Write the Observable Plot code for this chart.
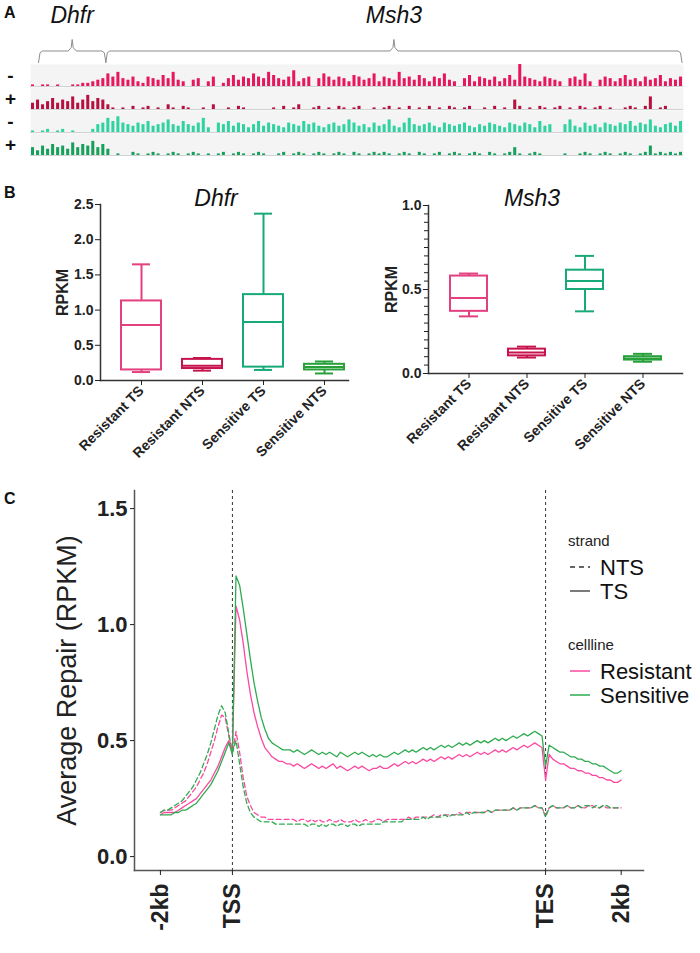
<!DOCTYPE html>
<html><head><meta charset="utf-8">
<script src="https://cdn.jsdelivr.net/npm/d3@7"></script>
<script src="https://cdn.jsdelivr.net/npm/@observablehq/plot@0.6"></script>
<style>
body{margin:0;background:#fff;}
#root{position:relative;width:700px;height:953px;overflow:hidden;font-family:"Liberation Sans",Arial,sans-serif;color:#111;background:#fff;}
.abs{position:absolute;line-height:1;white-space:nowrap;}
.panel{font-weight:bold;font-size:16px;}
.gtitle{font-style:italic;font-size:23px;text-align:center;width:200px;}
</style></head><body><div id="root"></div>
<script>
// ---------- Panel A data ----------
const trackIds = ["R-", "R+", "S-", "S+"];
const trackSigns = ["-", "+", "-", "+"];
const trackColors = ["#e8175d", "#b5103f", "#2fd3a0", "#16a05c"];
const trackRminus = [1,0,1,1,0, 1,0,0,1,1, 2,2,3,4,5, 8,6,9,5,4, 6,3,2,6,5, 4,7,5,9,4, 3,0,4,5,0, 3,6,0,2,5, 7,4,6,5,8, 6,5,9,7,5, 4,6,10,3,5, 6,0,5,8,6, 4,6,5,3,7, 6,4,5,8,3, 6,5,4,9,5, 6,4,7,5,3, 6,5,8,4,3, 0,5,7,3,6, 5,4,6,3,5, 7,4,14,6,5, 4,3,6,5,4, 3,0,5,6,4, 8,3,0,4,6, 5,3,5,7,4, 5,3,6,4,5, 7,3,5,4,6];
const trackRplus = [4,6,3,5,7, 4,6,5,8,4, 6,9,5,7,6, 3,1,0,1,0, 2,0,1,2,0, 1,0,3,1,0, 2,1,0,0,1, 0,3,0,0,1, 0,2,1,0,0, 0,0,0,1,0, 2,0,1,3,0, 0,1,2,0,1, 0,2,1,0,1, 2,0,0,1,0, 1,2,0,1,0, 2,0,1,0,2, 0,1,0,2,1, 0,1,2,0,0, 1,0,2,0,1, 0,6,2,0,1, 0,2,1,0,1, 2,0,1,0,2, 1,0,1,2,0, 1,0,0,1,2, 1,0,2,8,0, 1,2,0,0,0];
const trackSminus = [1,0,1,2,0, 1,2,0,1,0, 0,0,2,5,6, 9,7,10,6,5, 4,6,5,7,4, 5,6,8,5,4, 7,5,4,6,9, 3,0,6,5,7, 4,6,5,3,5, 7,4,6,5,4, 3,6,5,4,7, 5,6,4,3,5, 6,4,5,8,6, 4,5,3,6,4, 5,8,4,3,6, 9,5,4,5,6, 4,3,6,5,4, 5,6,4,3,5, 4,6,5,4,3, 6,5,4,6,5, 3,7,4,5,0, 0,5,8,4,3, 6,4,5,3,6, 5,4,6,5,7, 4,6,5,8,4, 3,5,6,4,7];
const trackSplus = [5,3,6,4,7, 5,6,4,8,5, 7,6,9,5,7, 4,0,1,0,0, 2,1,0,1,2, 1,0,1,2,1, 0,1,2,1,0, 1,0,1,2,0, 1,2,1,0,1, 2,1,0,0,1, 2,0,1,2,1, 0,1,2,1,0, 1,2,1,0,2, 1,0,1,2,1, 2,1,0,1,2, 1,0,2,1,0, 1,2,0,1,2, 1,0,1,2,1, 0,2,1,0,1, 2,5,1,0,1, 2,1,0,0,0, 0,1,0,0,1, 2,1,0,1,2, 1,0,1,2,1, 0,1,2,6,1, 2,1,2,1,2];
const geneNames = ["Dhfr", "Msh3"];
const geneStart = [1.6, 15];
const geneEnd = [15, 129.7];

// ---------- Panel B data ----------
const boxCats = ["Resistant TS", "Resistant NTS", "Sensitive TS", "Sensitive NTS"];
const boxColors = ["#e2407f", "#c8144e", "#17a978", "#27a03a"];
const dhfrMin = [0.12, 0.14, 0.15, 0.10];
const dhfrQ1  = [0.15, 0.17, 0.19, 0.15];
const dhfrMed = [0.79, 0.21, 0.83, 0.19];
const dhfrQ3  = [1.13, 0.30, 1.22, 0.23];
const dhfrMax = [1.65, 0.32, 2.37, 0.27];
const msh3Min = [0.34, 0.095, 0.37, 0.07];
const msh3Q1  = [0.37, 0.105, 0.50, 0.08];
const msh3Med = [0.45, 0.125, 0.55, 0.09];
const msh3Q3  = [0.58, 0.145, 0.615, 0.10];
const msh3Max = [0.595, 0.16, 0.70, 0.117];
const dhfrTicks = [0, 0.5, 1.0, 1.5, 2.0, 2.5];
const msh3Ticks = [0, 0.5, 1.0];

// ---------- Panel C data ----------
const cells = ["Resistant", "Sensitive"];
const cellColors = ["#fb48a0", "#2eab4f"];
const strands = ["NTS", "TS"];
const xTickPos = [0, 20, 107, 128];
const xTickLabels = ["-2kb", "TSS", "TES", "2kb"];
const resistantTS = [0.18,0.19,0.19,0.19,0.19,0.20,0.21,0.22,0.23,0.24,0.25,0.27,0.29,0.31,0.33,0.36,0.39,0.43,0.47,0.50,0.46,
1.08,1.02,0.92,0.80,0.70,0.62,0.56,0.51,0.47,0.45,0.43,0.42,0.41,0.41,0.40,
0.40,0.39,0.40,0.39,0.38,0.39,0.40,0.39,0.38,0.39,0.38,0.39,0.40,0.38,0.39,0.38,0.37,0.38,0.39,0.38,0.39,0.38,0.37,0.38,0.38,
0.39,0.38,0.38,0.39,0.40,0.39,0.40,0.41,0.40,0.41,0.40,0.41,0.42,0.41,0.42,0.41,0.42,0.43,0.42,0.43,0.42,0.43,0.44,0.43,0.44,
0.43,0.44,0.45,0.44,0.45,0.44,0.45,0.46,0.45,0.46,0.45,0.46,0.47,0.46,0.47,0.48,0.47,0.48,0.49,0.48,0.47,
0.33,0.44,0.42,0.41,0.40,0.40,0.39,0.38,0.38,0.37,0.37,0.36,0.36,0.35,0.35,0.34,0.34,0.33,0.33,0.32,0.32,0.33];
const sensitiveTS = [0.18,0.18,0.18,0.18,0.19,0.19,0.20,0.20,0.21,0.22,0.23,0.25,0.27,0.29,0.31,0.34,0.37,0.41,0.45,0.49,0.44,
1.21,1.17,1.07,0.96,0.85,0.75,0.67,0.60,0.55,0.51,0.49,0.48,0.47,0.46,0.46,
0.46,0.45,0.46,0.45,0.44,0.45,0.46,0.45,0.44,0.45,0.44,0.45,0.44,0.43,0.45,0.44,0.43,0.44,0.45,0.44,0.45,0.44,0.43,0.44,0.43,
0.44,0.43,0.43,0.44,0.45,0.44,0.45,0.46,0.45,0.46,0.45,0.46,0.47,0.46,0.47,0.46,0.47,0.48,0.47,0.48,0.47,0.48,0.49,0.48,0.49,
0.48,0.49,0.50,0.49,0.50,0.49,0.50,0.51,0.50,0.51,0.50,0.51,0.52,0.51,0.52,0.53,0.52,0.53,0.54,0.53,0.52,
0.39,0.48,0.47,0.46,0.45,0.45,0.44,0.43,0.43,0.42,0.42,0.41,0.41,0.40,0.40,0.39,0.39,0.38,0.37,0.36,0.36,0.37];
const resistantNTS = [0.19,0.20,0.20,0.20,0.21,0.22,0.23,0.24,0.26,0.28,0.30,0.33,0.36,0.40,0.45,0.50,0.56,0.61,0.60,0.52,0.44,
0.54,0.45,0.34,0.26,0.22,0.19,0.18,0.17,0.17,0.16,0.16,0.16,0.16,0.16,0.16,
0.16,0.16,0.15,0.16,0.16,0.15,0.16,0.15,0.16,0.15,0.15,0.16,0.15,0.15,0.16,0.15,0.15,0.15,0.16,0.15,0.15,0.16,0.15,0.15,0.16,
0.16,0.15,0.16,0.16,0.16,0.16,0.16,0.16,0.17,0.16,0.17,0.17,0.17,0.17,0.17,0.18,0.17,0.18,0.18,0.18,0.18,0.18,0.19,0.18,0.19,
0.19,0.19,0.19,0.19,0.19,0.20,0.19,0.20,0.20,0.20,0.20,0.20,0.21,0.20,0.21,0.21,0.21,0.21,0.22,0.21,0.21,
0.18,0.21,0.22,0.21,0.21,0.21,0.22,0.21,0.21,0.22,0.21,0.21,0.22,0.22,0.21,0.21,0.22,0.21,0.21,0.21,0.21,0.21];
const sensitiveNTS = [0.19,0.20,0.20,0.21,0.22,0.23,0.24,0.26,0.28,0.30,0.33,0.36,0.40,0.44,0.49,0.55,0.61,0.65,0.62,0.53,0.45,
0.50,0.40,0.30,0.23,0.19,0.17,0.16,0.15,0.15,0.15,0.15,0.14,0.14,0.14,0.14,
0.14,0.14,0.14,0.14,0.14,0.13,0.14,0.14,0.13,0.14,0.13,0.14,0.14,0.13,0.14,0.14,0.13,0.14,0.14,0.13,0.14,0.14,0.14,0.14,0.14,
0.14,0.15,0.15,0.15,0.15,0.15,0.15,0.16,0.16,0.16,0.16,0.16,0.17,0.16,0.17,0.17,0.17,0.17,0.18,0.17,0.18,0.18,0.18,0.18,0.19,
0.18,0.19,0.19,0.19,0.19,0.20,0.19,0.20,0.20,0.20,0.20,0.20,0.21,0.20,0.21,0.21,0.21,0.21,0.22,0.21,0.21,
0.17,0.21,0.22,0.21,0.21,0.21,0.22,0.21,0.21,0.22,0.21,0.22,0.22,0.21,0.22,0.21,0.22,0.22,0.21,0.21,0.21,0.21];

// ---------- helpers ----------
const root = document.getElementById("root");
const FONT = "'Liberation Sans', Arial, sans-serif";
function place(node, left, top) {
  node.style.position = "absolute";
  node.style.left = left + "px";
  node.style.top = top + "px";
  root.appendChild(node);
  return node;
}
function label(text, cls, left, top) {
  const d = document.createElement("div");
  d.className = "abs " + cls;
  d.textContent = text;
  return place(d, left, top);
}

// ---------- Panel A ----------
label("A", "panel", 4, 5);
const braceRows = [];
geneNames.forEach((g, i) => {
  const s = geneStart[i], e = geneEnd[i], m = (s + e) / 2;
  [[s, 0], [s + 0.3, 0.85], [s + 0.8, 1], [m - 0.8, 1], [m - 0.2, 1.3], [m, 2], [m + 0.2, 1.3], [m + 0.8, 1], [e - 0.8, 1], [e - 0.3, 0.85], [e, 0]]
    .forEach(([x, y]) => braceRows.push({ gene: g, x, y }));
});
const braces = Plot.plot({
  width: 700, height: 63, marginLeft: 30, marginRight: 17, marginTop: 0, marginBottom: 0,
  style: { fontFamily: FONT, background: "transparent", overflow: "visible" },
  x: { domain: [0, 130], axis: null },
  y: { domain: [0, 5], range: [62, 4.5], axis: null },
  marks: [
    Plot.line(braceRows, { x: "x", y: "y", z: "gene", stroke: "#8c8c8c", strokeWidth: 1, curve: "linear" }),
    Plot.text(geneNames, { x: (d, i) => (geneStart[i] + geneEnd[i]) / 2, y: () => 4.1, text: d => d, fontSize: 23, fontStyle: "italic", fill: "#111", lineAnchor: "middle" })
  ]
});
place(braces, 0, 0);

const trackValues = [trackRminus, trackRplus, trackSminus, trackSplus];
const trackRows = trackIds.flatMap((id, k) => trackValues[k].map((v, i) => ({ track: id, bin: i, v }))).filter(d => d.v > 0);
const tracks = Plot.plot({
  width: 700, height: 100, marginLeft: 30, marginRight: 17, marginTop: 3, marginBottom: 3,
  style: { fontFamily: FONT, background: "transparent", overflow: "visible" },
  x: { domain: [0, 130], axis: null },
  y: { domain: [0, 14], axis: null },
  fy: { domain: trackIds, axis: null, padding: 0.04 },
  color: { domain: trackIds, range: trackColors },
  marks: [
    Plot.frame({ fill: "#f4f4f4", stroke: null }),
    Plot.rect(trackRows, { x1: "bin", x2: d => d.bin + 1, y1: 0, y2: "v", fy: "track", fill: "track", insetLeft: 1, insetRight: 1 }),
    Plot.ruleY([0], { stroke: "#d2d2d2" }),
    Plot.text(trackIds, { fy: d => d, text: (d, i) => trackSigns[i], frameAnchor: "left", dx: -20, textAnchor: "middle", lineAnchor: "middle", fontSize: 19, fontWeight: "bold", fill: "#111" })
  ]
});
place(tracks, 0, 60);

// ---------- Panel B ----------
label("B", "panel", 4, 185);
label("Dhfr", "gtitle", 216 - 100, 187);
label("Msh3", "gtitle", 532 - 100, 187);

function boxPanel(o) {
  const stats = boxCats.map((c, i) => ({ cat: c, min: o.min[i], q1: o.q1[i], med: o.med[i], q3: o.q3[i], max: o.max[i] }));
  const sw = 2;
  const marks = [
    Plot.ruleX(stats, { x: "cat", y1: "min", y2: "q1", stroke: "cat", strokeWidth: sw }),
    Plot.ruleX(stats, { x: "cat", y1: "q3", y2: "max", stroke: "cat", strokeWidth: sw }),
    Plot.tickY(stats, { x: "cat", y: "min", stroke: "cat", strokeWidth: sw, insetLeft: o.capInset, insetRight: o.capInset }),
    Plot.tickY(stats, { x: "cat", y: "max", stroke: "cat", strokeWidth: sw, insetLeft: o.capInset, insetRight: o.capInset }),
    Plot.barY(stats, { x: "cat", y1: "q1", y2: "q3", fill: "white", stroke: "cat", strokeWidth: sw }),
    Plot.tickY(stats, { x: "cat", y: "med", stroke: "cat", strokeWidth: sw }),
    Plot.frame({ anchor: "left", stroke: "#333", strokeWidth: 1.5 }),
    Plot.frame({ anchor: "bottom", stroke: "#333", strokeWidth: 1.5 }),
    Plot.axisY({ ticks: o.ticks, tickFormat: d3.format(".1f"), tickSize: 5, tickPadding: 2, fontSize: 14, label: null }),
    Plot.axisX({ tickRotate: -45, tickSize: 5, tickPadding: 3, fontSize: 14, label: null }),
    Plot.text(["RPKM"], { frameAnchor: "left", text: d => d, rotate: -90, dx: o.labelDx, textAnchor: "middle", lineAnchor: "middle", fontSize: 16 })
  ];
  if (o.minor) marks.push(Plot.axisY({ ticks: o.minor, tickSize: 4, tickFormat: () => "", label: null }));
  return Plot.plot({
    width: o.width, height: o.height, marginLeft: o.mL, marginRight: o.mR, marginTop: o.mT, marginBottom: o.mB,
    style: { fontFamily: FONT, fontWeight: "bold", background: "transparent", overflow: "visible", color: "#222" },
    x: { type: "band", domain: boxCats, range: o.xrange, paddingInner: o.pin, paddingOuter: o.pout },
    y: { domain: [0, o.ymax] },
    color: { domain: boxCats, range: boxColors },
    marks
  });
}
const dhfrPlot = boxPanel({
  width: 352, height: 290, mL: 100, mR: 4, mT: 24, mB: 90,
  xrange: [110.5, 354.5], pin: 0.344, pout: 0.172, ymax: 2.5, ticks: dhfrTicks, capInset: 11, labelDx: -38,
  min: dhfrMin, q1: dhfrQ1, med: dhfrMed, q3: dhfrQ3, max: dhfrMax
});
place(dhfrPlot, 0, 180);
const msh3Plot = boxPanel({
  width: 345, height: 290, mL: 73, mR: 18, mT: 25, mB: 97,
  xrange: [82.6, 317.4], pin: 0.37, pout: 0.185, ymax: 1.0, ticks: msh3Ticks, capInset: 9, labelDx: -37,
  minor: d3.range(0, 1.0001, 0.05),
  min: msh3Min, q1: msh3Q1, med: msh3Med, q3: msh3Q3, max: msh3Max
});
place(msh3Plot, 355, 180);

// ---------- Panel C ----------
label("C", "panel", 4, 491);
const series = [
  { cell: "Resistant", strand: "TS", vals: resistantTS },
  { cell: "Sensitive", strand: "TS", vals: sensitiveTS },
  { cell: "Resistant", strand: "NTS", vals: resistantNTS },
  { cell: "Sensitive", strand: "NTS", vals: sensitiveNTS }
];
const lineRows = series.flatMap(s => s.vals.map((v, i) => ({ x: i, v, cell: s.cell, strand: s.strand })));
const profile = Plot.plot({
  width: 700, height: 473, marginLeft: 134, marginRight: 57, marginTop: 10, marginBottom: 83,
  style: { fontFamily: FONT, fontWeight: "bold", background: "transparent", overflow: "visible", color: "#222" },
  x: { domain: [-7.2, 134.2] },
  y: { domain: [-0.06, 1.578] },
  color: { domain: cells, range: cellColors },
  marks: [
    Plot.ruleX([xTickPos[1], xTickPos[2]], { stroke: "#333", strokeWidth: 1, strokeDasharray: "3,3" }),
    Plot.line(lineRows.filter(d => d.strand === "NTS"), { x: "x", y: "v", z: "cell", stroke: "cell", strokeWidth: 1.3, strokeDasharray: "5,3" }),
    Plot.line(lineRows.filter(d => d.strand === "TS"), { x: "x", y: "v", z: "cell", stroke: "cell", strokeWidth: 1.3 }),
    Plot.frame({ anchor: "left", stroke: "#555", strokeWidth: 1.5 }),
    Plot.frame({ anchor: "bottom", stroke: "#555", strokeWidth: 1.5 }),
    Plot.axisY({ ticks: [0, 0.5, 1.0, 1.5], tickFormat: d3.format(".1f"), tickSize: 4, tickPadding: 3, fontSize: 22, label: null }),
    Plot.axisX({ ticks: xTickPos, tickFormat: d => xTickLabels[xTickPos.indexOf(d)], tickRotate: -90, tickSize: 5, tickPadding: 8, fontSize: 23, label: null }),
    Plot.text(["Average Repair (RPKM)"], { frameAnchor: "left", text: d => d, rotate: -90, dx: -67, textAnchor: "middle", lineAnchor: "middle", fontSize: 27, fontWeight: "normal", fill: "#222" })
  ]
});
place(profile, 0, 480);

// ---------- Legend (C) ----------
const leg = d3.create("svg").attr("width", 150).attr("height", 200)
  .style("font-family", FONT).style("overflow", "visible");
leg.append("text").attr("x", 8).attr("y", 21).attr("font-size", 15).attr("fill", "#222").text("strand");
strands.forEach((s, i) => {
  const y = 42 + i * 24;
  leg.append("line").attr("x1", 10).attr("x2", 30).attr("y1", y).attr("y2", y)
    .attr("stroke", "#333").attr("stroke-width", 1.3).attr("stroke-dasharray", s === "NTS" ? "5,4" : null);
  leg.append("text").attr("x", 40).attr("y", y + 8).attr("font-size", 22).attr("fill", "#111").text(s);
});
leg.append("text").attr("x", 8).attr("y", 125).attr("font-size", 15).attr("fill", "#222").text("cellline");
cells.forEach((c, i) => {
  const y = 146 + i * 24;
  leg.append("line").attr("x1", 10).attr("x2", 30).attr("y1", y).attr("y2", y)
    .attr("stroke", cellColors[i]).attr("stroke-width", 1.5);
  leg.append("text").attr("x", 40).attr("y", y + 8).attr("font-size", 22).attr("fill", "#111").text(c);
});
place(leg.node(), 560, 525);
</script></body></html>
